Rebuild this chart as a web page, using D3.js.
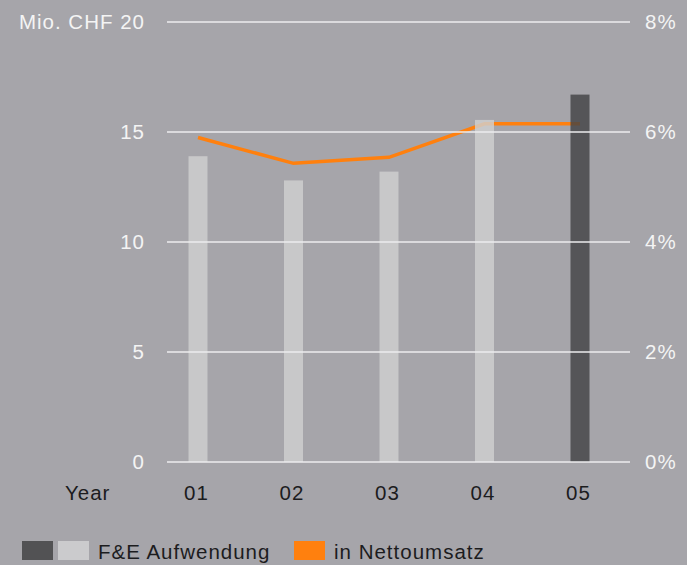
<!DOCTYPE html>
<html>
<head>
<meta charset="utf-8">
<script src="https://cdn.jsdelivr.net/npm/d3@7"></script>
<style>
  body { margin: 0; background: #a6a5aa; }
  svg { display: block; font-family: "Liberation Sans", Arial, sans-serif; }
</style>
</head>
<body>
<div id="chart"></div>
<script>
// data
var years = ["01", "02", "03", "04", "05"];
var spending = [13.9, 12.8, 13.2, 15.55, 16.7];     // Mio. CHF
var shareOfSales = [5.9, 5.43, 5.54, 6.15, 6.15];    // % of net sales
var leftTicks = [0, 5, 10, 15, 20];
var rightTicks = [0, 2, 4, 6, 8];

var width = 687, height = 565;
var fontSize = "20.5px", spacing = "1px";

var svg = d3.select("#chart").append("svg")
    .attr("width", width)
    .attr("height", height);

svg.append("rect").attr("width", width).attr("height", height).attr("fill", "#a6a5aa");

var x = d3.scalePoint().domain(years).range([198, 580]);
var yL = d3.scaleLinear().domain([0, 20]).range([462, 22]);
var yR = d3.scaleLinear().domain([0, 8]).range([462, 22]);
var barW = 19;

// orange line (drawn under the bars, bars are a bit see-through)
var line = d3.line()
    .x(function (d, i) { return x(years[i]); })
    .y(function (d) { return yR(d); });

svg.append("path")
    .datum(shareOfSales)
    .attr("d", line)
    .attr("fill", "none")
    .attr("stroke", "#ff800e")
    .attr("stroke-width", 3.5);

svg.selectAll(".bar")
  .data(spending)
  .enter().append("rect")
    .attr("class", "bar")
    .attr("x", function (d, i) { return x(years[i]) - barW / 2; })
    .attr("y", function (d) { return yL(d); })
    .attr("width", barW)
    .attr("height", function (d) { return yL(0) - yL(d); })
    .attr("fill", function (d, i) { return i == years.length - 1 ? "#434345" : "#cfcfd0"; })
    .attr("fill-opacity", 0.82);

// gridlines
svg.selectAll(".grid")
  .data(leftTicks)
  .enter().append("line")
    .attr("class", "grid")
    .attr("x1", 167).attr("x2", 630)
    .attr("y1", function (d) { return yL(d); })
    .attr("y2", function (d) { return yL(d); })
    .attr("stroke", "#ececee")
    .attr("stroke-width", 1.5);

function styleText(sel, color) {
  sel.attr("fill", color)
    .style("font-size", fontSize)
    .style("letter-spacing", spacing)
    .style("font-family", "Liberation Sans, Arial, sans-serif");
}

// left axis labels
var leftAxis = svg.append("g")
    .attr("transform", "translate(145,0)")
    .call(d3.axisLeft(yL).tickValues(leftTicks).tickSize(0)
      .tickFormat(function (d) { return d == 20 ? "Mio. CHF 20" : d; }));
leftAxis.select(".domain").remove();
leftAxis.selectAll("text").attr("x", 0).attr("dy", "0.34em").call(styleText, "#f4f4f4");

// right axis labels
var rightAxis = svg.append("g")
    .attr("transform", "translate(645,0)")
    .call(d3.axisRight(yR).tickValues(rightTicks).tickSize(0)
      .tickFormat(function (d) { return d + "%"; }));
rightAxis.select(".domain").remove();
rightAxis.selectAll("text").attr("x", 0).attr("dy", "0.34em").call(styleText, "#f4f4f4");

// x axis labels
var xAxis = svg.append("g")
    .attr("transform", "translate(-2,500)")
    .call(d3.axisBottom(x).tickSize(0));
xAxis.select(".domain").remove();
xAxis.selectAll("text").attr("y", 0).attr("dy", 0).call(styleText, "#1c1c1e");

svg.append("text")
    .attr("x", 65).attr("y", 500)
    .call(styleText, "#1c1c1e")
    .text("Year");

// legend
var legend = svg.append("g");
legend.append("rect").attr("x", 22).attr("y", 541).attr("width", 31).attr("height", 19).attr("fill", "#525254");
legend.append("rect").attr("x", 58).attr("y", 541).attr("width", 31).attr("height", 19).attr("fill", "#cbcbcd");
legend.append("text").attr("x", 98).attr("y", 558.5)
    .call(styleText, "#1c1c1e")
    .text("F&E Aufwendung");
legend.append("rect").attr("x", 294).attr("y", 541).attr("width", 31).attr("height", 19).attr("fill", "#ff800e");
legend.append("text").attr("x", 334).attr("y", 558.5)
    .call(styleText, "#1c1c1e")
    .text("in Nettoumsatz");
</script>
</body>
</html>
